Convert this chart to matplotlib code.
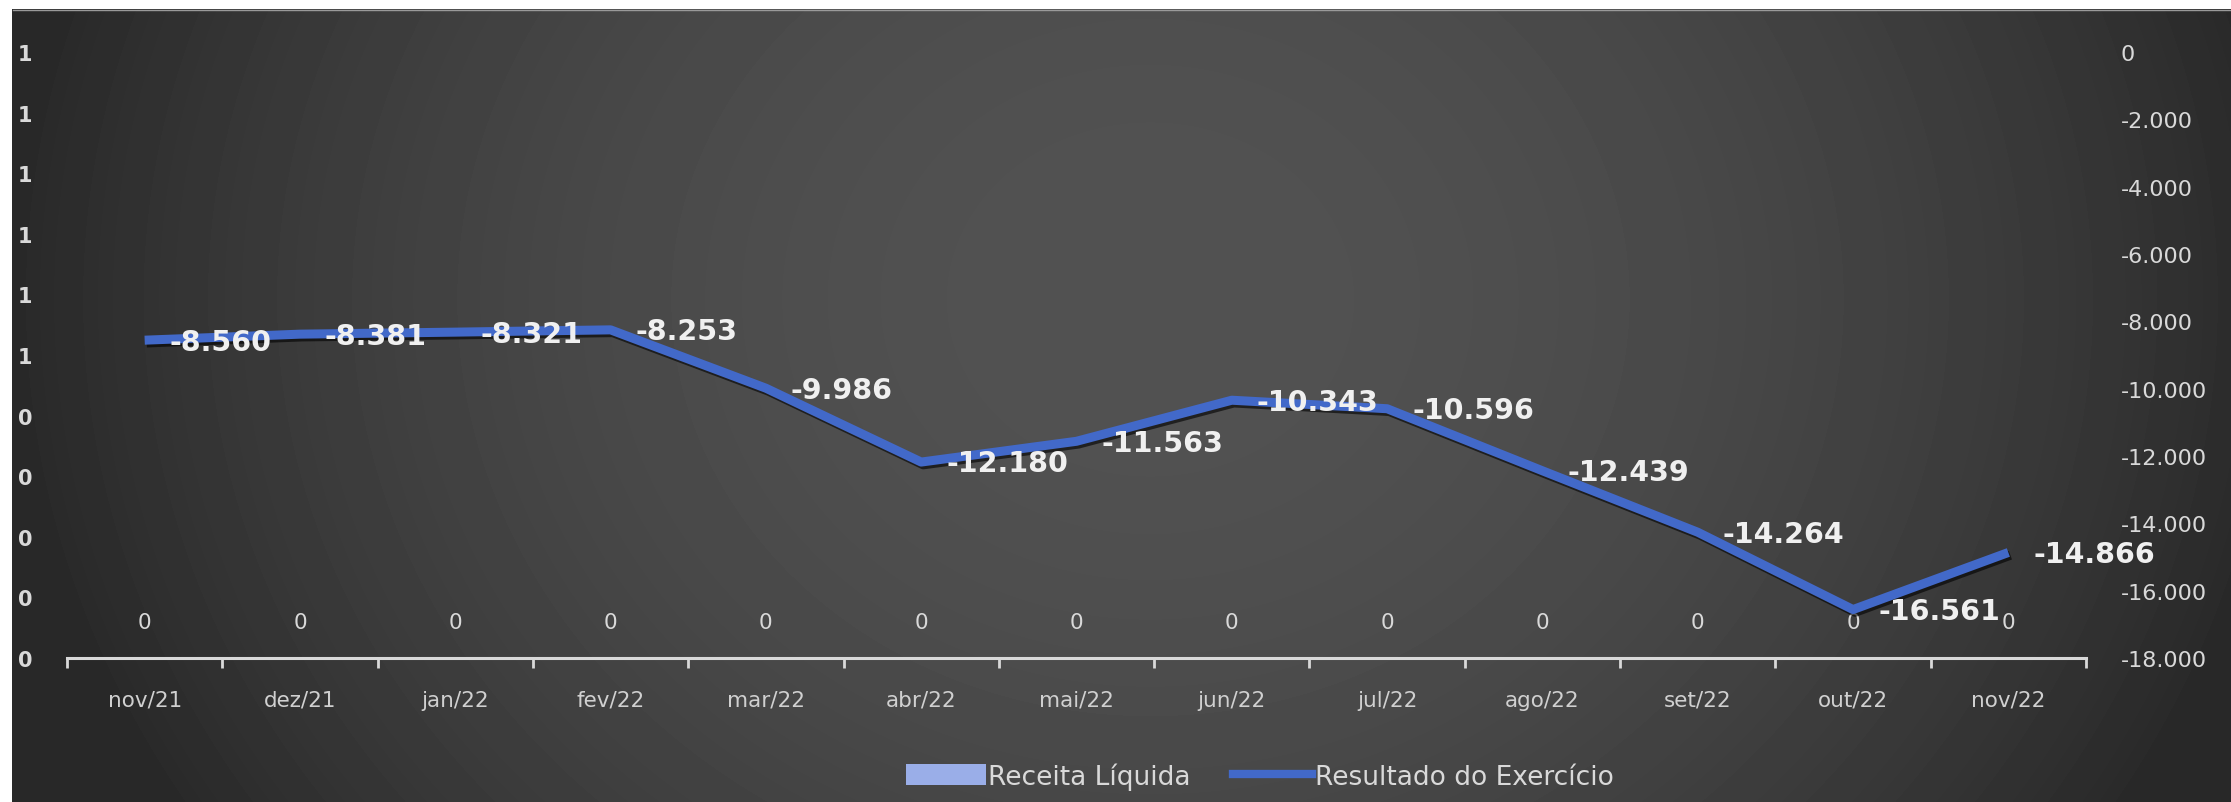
import numpy as np
import matplotlib
matplotlib.use("Agg")
import matplotlib.pyplot as plt
import matplotlib.patheffects as pe
from matplotlib.patches import Patch
from matplotlib.lines import Line2D

# ---- data ----
categories = ["nov/21", "dez/21", "jan/22", "fev/22", "mar/22", "abr/22", "mai/22",
              "jun/22", "jul/22", "ago/22", "set/22", "out/22", "nov/22"]
receita_liquida = [0, 0, 0, 0, 0, 0, 0, 0, 0, 0, 0, 0, 0]
resultado_exercicio = [-8560, -8381, -8321, -8253, -9986, -12180, -11563,
                       -10343, -10596, -12439, -14264, -16561, -14866]
left_ticks = [0.0, 0.1, 0.2, 0.3, 0.4, 0.5, 0.6, 0.7, 0.8, 0.9, 1.0]
left_tick_labels = ["0", "0", "0", "0", "0", "1", "1", "1", "1", "1", "1"]
right_ticks = [0, -2000, -4000, -6000, -8000, -10000, -12000, -14000, -16000, -18000]

def fmt_br(v):
    s = f"{abs(int(v)):,}".replace(",", ".")
    return ("-" + s) if v < 0 else s

W, H = 2231, 803
fig = plt.figure(figsize=(W / 100, H / 100), dpi=100, facecolor="white")

# ---- background (radial gradient) ----
bx0, by_top = 12, 10
bg_ax = fig.add_axes([bx0 / W, 0, 1 - bx0 / W, 1 - by_top / H])
bg_ax.set_axis_off()
yy, xx = np.mgrid[by_top:H, bx0:W]
r2 = ((xx - 1150) / 1150.0) ** 2 + ((yy - 300) / 1000.0) ** 2
val = np.clip(82 - 42 * r2, 41, 90) / 255.0
bg_ax.imshow(val, cmap="gray", vmin=0, vmax=1, aspect="auto", interpolation="bilinear")
bg_ax.plot([0, W - bx0], [0.5, 0.5], color="#9a9a9a", lw=1)
bg_ax.set_xlim(-0.5, W - bx0 - 0.5)
bg_ax.set_ylim(H - by_top - 0.5, -0.5)

# ---- main axes ----
left, right, top, bottom = 67, 2086, 53, 659
ax = fig.add_axes([left / W, 1 - bottom / H, (right - left) / W, (bottom - top) / H])
ax.patch.set_alpha(0)
x = np.arange(len(categories))

ax.bar(x, receita_liquida, width=0.6, color="#9aaee8")
ax.set_xlim(-0.5, len(categories) - 0.5)
ax.set_ylim(0, 1)
ax.set_yticks(left_ticks)
ax.set_yticklabels(left_tick_labels, fontweight="bold")
ax.tick_params(axis="y", length=0, pad=25, labelsize=15, labelcolor="#d9d9d9")
ax.set_xticks(x)
ax.set_xticklabels(categories)
ax.set_xticks(np.arange(-0.5, len(categories), 1.0), minor=True)
ax.tick_params(axis="x", which="major", length=0, pad=23, labelsize=15.5, labelcolor="#d0d0d0")
ax.tick_params(axis="x", which="minor", length=7, width=2, color="#d9d9d9", direction="out")
for s in ["top", "left", "right"]:
    ax.spines[s].set_visible(False)
ax.spines["bottom"].set_color("#d9d9d9")
ax.spines["bottom"].set_linewidth(2.2)

for xi, v in zip(x, receita_liquida):
    ax.annotate(str(v), (xi, v), xytext=(0, 26), textcoords="offset points",
                ha="center", va="center", fontsize=15.5, color="#d9d9d9")

# ---- secondary axis (line) ----
ax2 = ax.twinx()
ax2.patch.set_alpha(0)
ax2.set_ylim(-18000, 0)
ax2.set_yticks(right_ticks)
ax2.set_yticklabels([fmt_br(t) for t in right_ticks])
ax2.tick_params(axis="y", length=0, pad=25, labelsize=16, labelcolor="#d9d9d9")
for s in ["top", "left", "right", "bottom"]:
    ax2.spines[s].set_visible(False)

ax2.plot(x, resultado_exercicio, color="#4269c9", lw=6.5, solid_joinstyle="round",
         solid_capstyle="butt",
         path_effects=[pe.SimpleLineShadow(offset=(1.5, -2), shadow_color="black", alpha=0.6),
                       pe.Normal()])

for xi, v in zip(x, resultado_exercicio):
    ax2.annotate(fmt_br(v), (xi, v), xytext=(18, -1), textcoords="offset points",
                 ha="left", va="center", fontsize=20.5, fontweight="bold", color="#f0f0f0")

# ---- legend ----
handles = [Patch(facecolor="#9aaee8", edgecolor="none"),
           Line2D([0], [0], color="#4269c9", lw=6)]
fig.legend(handles, ["Receita Líquida", "Resultado do Exercício"],
           loc="center", bbox_to_anchor=(1260 / W, 1 - 777 / H), ncol=2, frameon=False,
           fontsize=19, labelcolor="#d9d9d9", handlelength=3.0, handleheight=0.8,
           handletextpad=0.1, columnspacing=1.6)

fig.savefig("out.png", dpi=100, facecolor="white")
